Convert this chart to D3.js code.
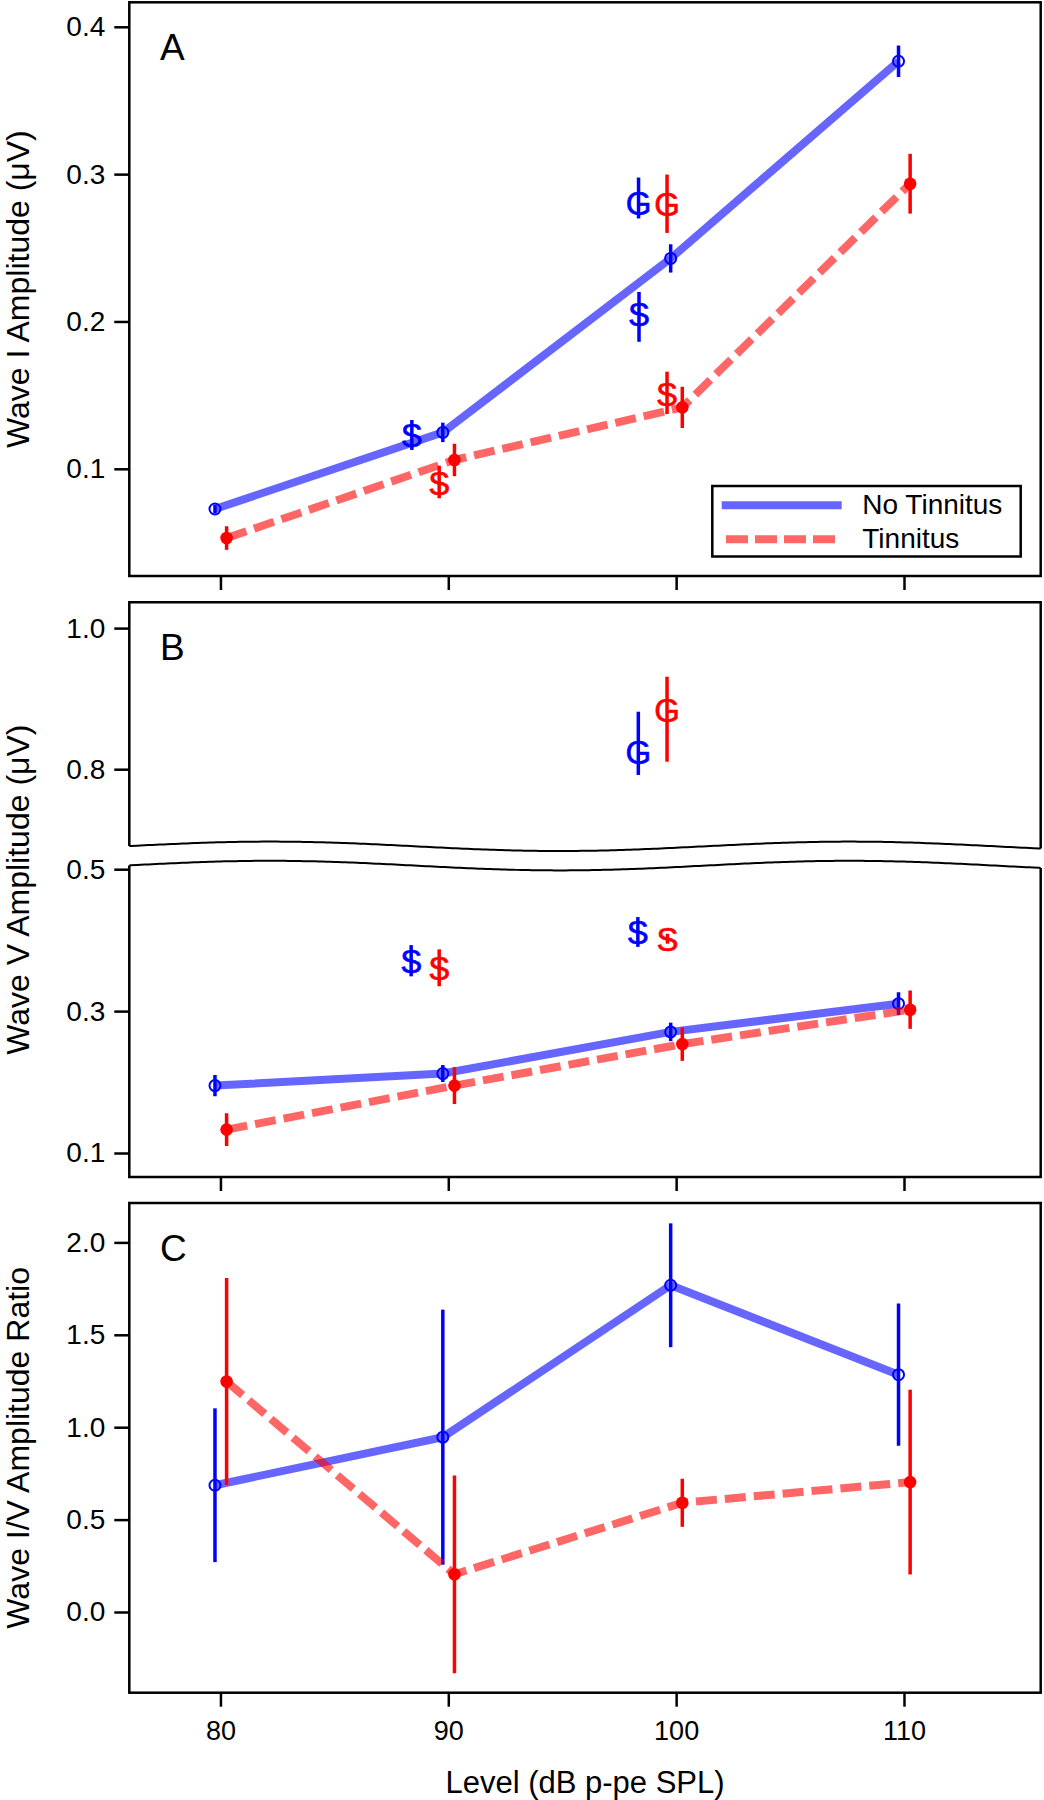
<!DOCTYPE html>
<html><head><meta charset="utf-8">
<script src="https://cdn.jsdelivr.net/npm/d3@7/dist/d3.min.js"></script>
<style>
body{margin:0;background:#fff;}
svg text{font-family:"Liberation Sans",Arial,Helvetica,sans-serif;fill:#000;}
</style></head>
<body><svg id="c" width="1044" height="1800"></svg>
<script>
// ---------- data ----------
const levels = [80, 90, 100, 110];
const xTicks = [80, 90, 100, 110];
const seriesNames = ["No Tinnitus", "Tinnitus"];

const waveI_noTin = [0.0727, 0.1247, 0.2428, 0.3766];
const waveI_noTin_err = [0.003, 0.0066, 0.0096, 0.0107];
const waveI_tin = [0.053, 0.106, 0.1417, 0.2935];
const waveI_tin_err = [0.008, 0.011, 0.014, 0.0203];

const waveV_noTin = [0.195, 0.212, 0.2707, 0.3104];
const waveV_noTin_err = [0.015, 0.012, 0.013, 0.016];
const waveV_tin = [0.133, 0.195, 0.2535, 0.302];
const waveV_tin_err = [0.023, 0.026, 0.0236, 0.027];

const ratio_noTin = [0.686, 0.946, 1.768, 1.284];
const ratio_noTin_err = [0.416, 0.69, 0.335, 0.385];
const ratio_tin = [1.247, 0.204, 0.591, 0.703];
const ratio_tin_err = [0.56, 0.535, 0.13, 0.50];

// letter markers (comparison data) : panel, letter, group, level, value, low, high
const markPanel = ["A","A","A","A","A","A","BL","BL","BL","BL","BU","BU"];
const markLetter = ["S","S","G","G","S","S","S","S","S","S","G","G"];
const markGroup = [0,1,0,1,0,1,0,1,0,1,0,1];
const markLevel = [88.4,89.6,98.35,99.6,98.37,99.6,88.37,89.6,98.32,99.62,98.34,99.6];
const markValue = [0.123,0.0905,0.2806,0.2799,0.2049,0.1504,0.371,0.361,0.4115,0.402,0.8237,0.8839];
const markLow   = [0.1128,0.080,0.2699,0.2601,0.1862,0.1372,0.349,0.335,0.3905,0.395,0.7918,0.8106];
const markHigh  = [0.1331,0.1021,0.2977,0.2997,0.2200,0.1659,0.393,0.387,0.4325,0.409,0.8815,0.9311];

const yTicksA = [0.1, 0.2, 0.3, 0.4];
const yTicksBU = [0.8, 1.0];
const yTicksBL = [0.1, 0.3, 0.5];
const yTicksC = [0.0, 0.5, 1.0, 1.5, 2.0];

// ---------- layout ----------
const svg = d3.select("#c");
const L = 129.3, R = 1040.7;
const x = d3.scaleLinear().domain([76, 116]).range([L, R]);
const colors = ["#0000ff", "#ff0000"];
const offsets = [-0.24, 0.27];

const pA = {top: 2.3, bottom: 576};
const pB = {top: 602.3, bottom: 1177};
const pC = {top: 1203, bottom: 1692.7};

const yA = d3.scaleLinear().domain([0.1, 0.4]).range([468.8, 26.8]);
const yBU = d3.scaleLinear().domain([0.8, 1.0]).range([769.2, 628.1]);
const yBL = d3.scaleLinear().domain([0.1, 0.5]).range([1153, 869.2]);
const yC = d3.scaleLinear().domain([0, 2]).range([1612, 1242.4]);

const fmt = d3.format(".1f");

function yAxis(scale, ticks) {
  const g = svg.append("g").attr("transform", `translate(${L},0)`)
    .call(d3.axisLeft(scale).tickValues(ticks).tickFormat(fmt).tickSize(15).tickPadding(9));
  g.select(".domain").remove();
  g.selectAll(".tick line").attr("stroke", "#000").attr("stroke-width", 2.5);
  g.selectAll(".tick text").style("font-size", "28px").attr("fill", "#000");
  return g;
}
function xAxis(yPos, labels) {
  const g = svg.append("g").attr("transform", `translate(0,${yPos})`)
    .call(d3.axisBottom(x).tickValues(xTicks).tickSize(14).tickPadding(14)
      .tickFormat(labels ? d3.format("d") : ""));
  g.select(".domain").remove();
  g.selectAll(".tick line").attr("stroke", "#000").attr("stroke-width", 2.5);
  g.selectAll(".tick text").style("font-size", "27px").attr("fill", "#000");
}
function frame(p) {
  svg.append("rect").attr("x", L).attr("y", p.top).attr("width", R - L).attr("height", p.bottom - p.top)
    .attr("fill", "none").attr("stroke", "#000").attr("stroke-width", 2.5);
}
function panelLetter(t, p) {
  svg.append("text").attr("x", 160).attr("y", p.top + 58).text(t).style("font-size", "37px");
}
function yLabel(t, p) {
  const cy = (p.top + p.bottom) / 2;
  svg.append("text").attr("transform", `translate(29,${cy}) rotate(-90)`)
    .attr("text-anchor", "middle").style("font-size", "32px").text(t);
}

function drawSeries(yScale, vals, errs, k, clipId) {
  const g = svg.append("g");
  if (clipId) g.attr("clip-path", `url(#${clipId})`);
  const pts = levels.map((l, i) => [x(l + offsets[k]), yScale(vals[i])]);
  return {g, pts, errs, vals, yScale, k};
}
function drawLines(s) {
  const line = d3.line();
  s.g.append("path").attr("d", line(s.pts)).attr("fill", "none")
    .attr("stroke", colors[s.k]).attr("stroke-opacity", 0.6).attr("stroke-width", 8)
    .attr("stroke-dasharray", s.k === 1 ? "21,8" : null);
}
function drawMarkers(s) {
  levels.forEach((l, i) => {
    const cx = x(l + offsets[s.k]);
    s.g.append("line").attr("x1", cx).attr("x2", cx)
      .attr("y1", s.yScale(s.vals[i] - s.errs[i])).attr("y2", s.yScale(s.vals[i] + s.errs[i]))
      .attr("stroke", colors[s.k]).attr("stroke-width", 3.5);
    if (s.k === 0) {
      s.g.append("circle").attr("cx", cx).attr("cy", s.yScale(s.vals[i])).attr("r", 5.5)
        .attr("fill", "none").attr("stroke", colors[0]).attr("stroke-width", 2);
    } else {
      s.g.append("circle").attr("cx", cx).attr("cy", s.yScale(s.vals[i])).attr("r", 6.3)
        .attr("fill", colors[1]);
    }
  });
}
function drawLetters(panelKeys, scaleMap) {
  markPanel.forEach((p, i) => {
    if (!panelKeys.includes(p)) return;
    const ys = scaleMap[p];
    const cx = x(markLevel[i]);
    const c = colors[markGroup[i]];
    svg.append("text").attr("x", cx).attr("y", ys(markValue[i])).attr("dy", "0.36em")
      .attr("text-anchor", "middle").style("font-size", "33px").style("fill", c)
      .style("stroke", c).style("stroke-width", 0.6).text(markLetter[i]);
    svg.append("line").attr("x1", cx).attr("x2", cx)
      .attr("y1", ys(markLow[i])).attr("y2", ys(markHigh[i]))
      .attr("stroke", c).attr("stroke-width", 3.5);
  });
}

// ---------- Panel A ----------
frame(pA);
yAxis(yA, yTicksA);
xAxis(pA.bottom, false);
panelLetter("A", pA);
yLabel("Wave I Amplitude (\u03bcV)", pA);
{
  const s0 = drawSeries(yA, waveI_noTin, waveI_noTin_err, 0);
  const s1 = drawSeries(yA, waveI_tin, waveI_tin_err, 1);
  drawLines(s0); drawLines(s1);
  drawLetters(["A"], {A: yA});
  drawMarkers(s0); drawMarkers(s1);
}
// legend
{
  const lg = svg.append("g");
  lg.append("rect").attr("x", 712.3).attr("y", 486).attr("width", 308.4).attr("height", 70.5)
    .attr("fill", "#fff").attr("stroke", "#000").attr("stroke-width", 2.5);
  lg.append("line").attr("x1", 721.7).attr("x2", 841.7).attr("y1", 505.2).attr("y2", 505.2)
    .attr("stroke", colors[0]).attr("stroke-opacity", 0.6).attr("stroke-width", 8);
  lg.append("line").attr("x1", 726).attr("x2", 837).attr("y1", 539.3).attr("y2", 539.3)
    .attr("stroke", colors[1]).attr("stroke-opacity", 0.6).attr("stroke-width", 8).attr("stroke-dasharray", "22,7");
  lg.append("text").attr("x", 862.3).attr("y", 514).style("font-size", "28px").text(seriesNames[0]);
  lg.append("text").attr("x", 862.3).attr("y", 547.5).style("font-size", "28px").text(seriesNames[1]);
}

// ---------- Panel B (broken axis) ----------
const waveUpper = xx => 846.3 - 4.7 * Math.cos(2 * Math.PI * (xx - 270) / 580);
const waveLower = xx => 865.6 - 4.8 * Math.cos(2 * Math.PI * (xx - 270) / 580);
const waveXs = d3.range(L, R + 0.01, (R - L) / 120);
{
  const defs = svg.append("defs");
  const up = [[L, pB.top], [R, pB.top]].concat(waveXs.slice().reverse().map(xx => [xx, waveUpper(xx)]));
  const lo = waveXs.map(xx => [xx, waveLower(xx)]).concat([[R, pB.bottom], [L, pB.bottom]]);
  defs.append("clipPath").attr("id", "clipBU").append("path").attr("d", d3.line()(up) + "Z");
  defs.append("clipPath").attr("id", "clipBL").append("path").attr("d", d3.line()(lo) + "Z");
  const pathUp = d3.line()([[L, waveUpper(L)], [L, pB.top], [R, pB.top], [R, waveUpper(R)]]);
  svg.append("path").attr("d", pathUp).attr("fill", "none").attr("stroke", "#000").attr("stroke-width", 2.5);
  const pathLo = d3.line()([[L, waveLower(L)], [L, pB.bottom], [R, pB.bottom], [R, waveLower(R)]]);
  svg.append("path").attr("d", pathLo).attr("fill", "none").attr("stroke", "#000").attr("stroke-width", 2.5);
  svg.append("path").attr("d", d3.line().curve(d3.curveBasis)(waveXs.map(xx => [xx, waveUpper(xx)])))
    .attr("fill", "none").attr("stroke", "#000").attr("stroke-width", 2);
  svg.append("path").attr("d", d3.line().curve(d3.curveBasis)(waveXs.map(xx => [xx, waveLower(xx)])))
    .attr("fill", "none").attr("stroke", "#000").attr("stroke-width", 2);
}
yAxis(yBU, yTicksBU);
yAxis(yBL, yTicksBL);
xAxis(pB.bottom, false);
panelLetter("B", pB);
yLabel("Wave V Amplitude (\u03bcV)", pB);
{
  const s0 = drawSeries(yBL, waveV_noTin, waveV_noTin_err, 0, "clipBL");
  const s1 = drawSeries(yBL, waveV_tin, waveV_tin_err, 1, "clipBL");
  drawLines(s0); drawLines(s1);
  drawLetters(["BL", "BU"], {BL: yBL, BU: yBU});
  drawMarkers(s0); drawMarkers(s1);
}

// ---------- Panel C ----------
frame(pC);
yAxis(yC, yTicksC);
xAxis(pC.bottom, true);
panelLetter("C", pC);
yLabel("Wave I/V Amplitude Ratio", pC);
{
  const s0 = drawSeries(yC, ratio_noTin, ratio_noTin_err, 0);
  const s1 = drawSeries(yC, ratio_tin, ratio_tin_err, 1);
  drawLines(s1); drawLines(s0);
  drawMarkers(s0); drawMarkers(s1);
}
svg.append("text").attr("x", (L + R) / 2).attr("y", 1793).attr("text-anchor", "middle")
  .style("font-size", "31px").text("Level (dB p-pe SPL)");
</script>
</body></html>
